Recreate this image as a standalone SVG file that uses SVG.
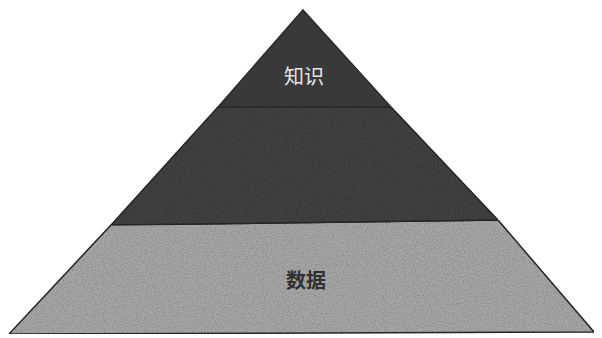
<svg xmlns="http://www.w3.org/2000/svg" width="602" height="338" viewBox="0 0 602 338">
  <style>
    .label { font-family: "Noto Sans CJK SC", "Noto Sans", sans-serif; font-size: 20px; text-anchor: middle; }
    .edge { stroke: #2a2a2a; stroke-width: 1.5; stroke-linejoin: miter; }
  </style>
  <defs>
    <filter id="grain" x="0" y="0" width="100%" height="100%">
      <feTurbulence type="fractalNoise" baseFrequency="0.9" numOctaves="2" seed="3" result="n"/>
      <feColorMatrix in="n" type="matrix" values="0 0 0 0 0  0 0 0 0 0  0 0 0 0 0  0 0 0 0.9 -0.35" result="g"/>
      <feComposite in="g" in2="SourceGraphic" operator="in" result="gc"/>
      <feMerge><feMergeNode in="SourceGraphic"/><feMergeNode in="gc"/></feMerge>
    </filter>
  </defs>
  <rect width="602" height="338" fill="#ffffff"/>
  <g id="layer-data">
    <polygon points="111,225 498,220 594,332 9,334" fill="#a8a8a8" filter="url(#grain)" class="edge"/>
    <text class="label" x="306" y="288" fill="#303030" font-weight="bold">数据</text>
  </g>
  <g id="layer-middle">
    <polygon points="218,107 391,107 498,220 111,225" fill="#434343" filter="url(#grain)" class="edge"/>
  </g>
  <g id="layer-knowledge">
    <polygon points="303,10 391,107 218,107" fill="#393939" class="edge"/>
    <text class="label" x="304" y="84" fill="#e6e6e6">知识</text>
  </g>
  <g id="connectors"></g>
</svg>
